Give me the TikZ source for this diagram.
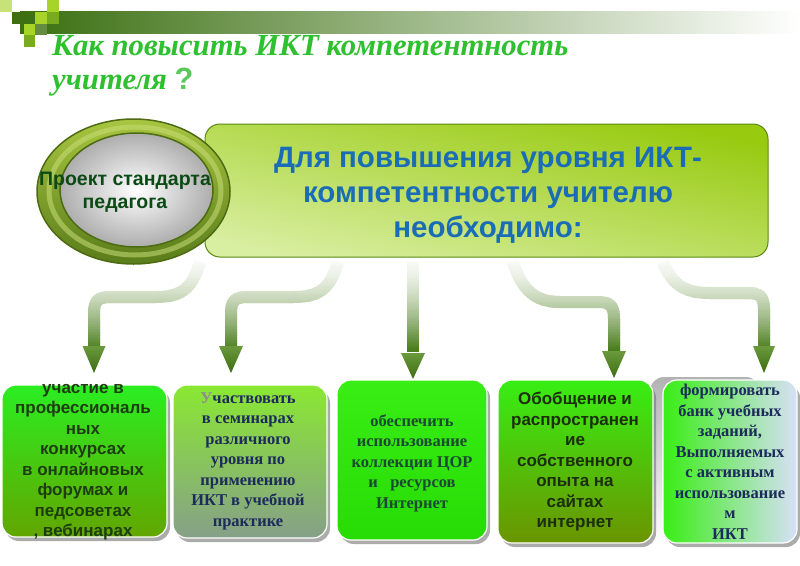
\documentclass[tikz,border=0pt]{standalone}
\usepackage{fontspec}
\setmainfont{Liberation Sans}
\newfontfamily\sansf{Liberation Sans}
\newfontfamily\seriff{Liberation Serif}
\usetikzlibrary{shadows,shapes.geometric}
\definecolor{titlegreen}{HTML}{2EC02E}
\definecolor{qgreen}{HTML}{5CC85C}
\definecolor{bardark}{HTML}{3A6F10}
\definecolor{sqlight}{HTML}{A8D42A}
\definecolor{sqmed}{HTML}{78AB1E}
\definecolor{sqdark}{HTML}{3F6F12}
\definecolor{sqpale}{HTML}{C8E27A}
\definecolor{maintop}{HTML}{98CA10}
\definecolor{mainbot}{HTML}{D8EEA0}
\definecolor{mainborder}{HTML}{5A8A10}
\definecolor{mainblue}{HTML}{1A6DB5}
\definecolor{ringtop}{HTML}{A8C640}
\definecolor{ringbot}{HTML}{5A7C1A}
\definecolor{ringedge}{HTML}{4D6B12}
\definecolor{ringhi}{HTML}{C8DE78}
\definecolor{circtext}{HTML}{0B4A14}
\definecolor{arrowdark}{HTML}{4A7D1C}
\definecolor{headtop}{HTML}{6A9A3C}
\definecolor{headbot}{HTML}{3D6C12}
\definecolor{navy}{HTML}{1C2A5C}
\definecolor{dgtext}{HTML}{1E3D0F}
\definecolor{tealtext}{HTML}{1B4A32}
\definecolor{darktext}{HTML}{1C2E0A}
\definecolor{bgreen}{HTML}{2BEE22}
\definecolor{bolive}{HTML}{62A600}
\definecolor{blight}{HTML}{8AE832}
\definecolor{blav}{HTML}{D8E0F8}
\definecolor{bgreygreen}{HTML}{86A088}
\definecolor{bbright}{HTML}{38EE14}
\definecolor{bbright2}{HTML}{26DC04}
\definecolor{bolive2}{HTML}{6B9400}
\tikzset{
  sq/.style={minimum size=11.7pt, inner sep=0pt, anchor=north west},
  lowbox/.style={rectangle, rounded corners=14pt, inner sep=0pt, draw=white, line width=1.2pt,
    drop shadow={shadow xshift=3pt, shadow yshift=-4pt, fill=black!55, opacity=0.6}},
  sanstext/.style={align=center, inner sep=0pt, font=\sansf\bfseries\fontsize{17}{20.5}\selectfont},
  seriftext/.style={align=center, inner sep=0pt, font=\seriff\bfseries\fontsize{16.5}{20.5}\selectfont},
  titlefont/.style={anchor=base west, inner sep=0pt, text=titlegreen,
    font=\seriff\bfseries\itshape\fontsize{30.7}{34}\selectfont},
  shaft/.style={line width=12pt, line cap=butt, line join=round},
  headshape/.style={top color=headtop, bottom color=headbot, draw=none},
}
\begin{document}
\begin{tikzpicture}[x=1pt,y=-1pt]
\useasboundingbox (0,0) rectangle (800,565);
\fill[white] (0,0) rectangle (800,565);

% top bar and squares
\shade[left color=bardark, right color=white] (20,11) rectangle (800,33);
\node[sq, fill=sqpale] (q0) at (0,0) {};
\node[sq, fill=sqlight] (q1) at (46.8,0) {};
\node[sq, fill=sqdark] (q2) at (11.7,11.7) {};
\node[sq, fill=sqlight] (q3) at (35.1,11.7) {};
\node[sq, fill=sqmed] (q4) at (46.8,11.7) {};
\node[sq, fill=sqlight] (q5) at (23.4,23.4) {};
\node[sq, fill=sqdark!80] (q6) at (35.1,23.4) {};
\node[sq, fill=sqmed] (q7) at (23.4,35.1) {};

% title
\node[titlefont] (title1) at (52,55) {Как повысить ИКТ компетентность};
\node[titlefont] (title2) at (52,89) {учителя {\sansf\bfseries\upshape\color{qgreen}?}};

% main box
\node[rectangle, rounded corners=15pt, minimum width=563pt, minimum height=133pt, inner sep=0pt,
  top color=maintop, bottom color=mainbot, shading angle=-12, draw=mainborder, line width=1pt] (main) at (486.5,190.5) {};
\node[align=center, inner sep=0pt, text=mainblue, font=\sansf\bfseries\fontsize{29.5}{35}\selectfont] (maintext) at (488,195)
 {Для повышения уровня ИКТ-\\компетентности учителю\\необходимо:};

% circle
\node[ellipse, minimum width=193pt, minimum height=145pt, inner sep=0pt,
  top color=ringtop, bottom color=ringbot, draw=ringedge, line width=1.5pt] (ring) at (133.5,191.5) {};
\draw[ringhi, line width=5pt, opacity=0.55] (135,191) ellipse [x radius=86, y radius=64];
\node[ellipse, minimum width=153pt, minimum height=114pt, inner sep=0pt,
  inner color=white, outer color=black!32, draw=ringedge, line width=1.5pt] (inner) at (136.5,190) {};
\node[align=center, inner sep=0pt, text=circtext, font=\sansf\bfseries\fontsize{19.5}{23}\selectfont] (ctext) at (125,192)
 {Проект стандарта\\педагога};

% arrows
\coordinate (s1) at (200,262); \coordinate (e1) at (94,346);
\coordinate (s2) at (338,262); \coordinate (e2) at (231,346);
\coordinate (s3) at (413,262); \coordinate (e3) at (413,353);
\coordinate (s4) at (513,262); \coordinate (e4) at (614,351);
\coordinate (s5) at (663,262); \coordinate (e5) at (764,346);
\foreach \i in {0,...,47}{
  \pgfmathsetmacro{\ya}{255+2*\i}
  \pgfmathsetmacro{\yb}{\ya+2.6}
  \pgfmathtruncatemacro{\pp}{min(100,3+100*((\i+0.5)/48)^1.6)}
  \begin{scope}
    \clip (0,\ya) rectangle (800,\yb);
    \colorlet{bandc}{arrowdark!\pp!white}
    \draw[shaft, bandc] (s1) .. controls (192,290) and (180,297) .. (155,297) -- (110,297) .. controls (98,297) and (94,301) .. (94,313) -- (e1);
    \draw[shaft, bandc] (s2) .. controls (330,290) and (318,297) .. (293,297) -- (247,297) .. controls (235,297) and (231,301) .. (231,313) -- (e2);
    \draw[shaft, bandc] (s3) -- (e3);
    \draw[shaft, bandc] (s4) .. controls (522,290) and (535,302) .. (560,302) -- (598,302) .. controls (610,302) and (614,306) .. (614,318) -- (e4);
    \draw[shaft, bandc] (s5) .. controls (672,285) and (685,293) .. (710,293) -- (748,293) .. controls (760,293) and (764,297) .. (764,309) -- (e5);
  \end{scope}
}
\shade[headshape] ([xshift=-11.5pt]e1) -- ([xshift=11.5pt]e1) -- ([yshift=-27pt]e1) -- cycle;
\shade[headshape] ([xshift=-12pt]e2) -- ([xshift=12pt]e2) -- ([yshift=-27pt]e2) -- cycle;
\shade[headshape] ([xshift=-12pt]e3) -- ([xshift=12pt]e3) -- ([yshift=-26pt]e3) -- cycle;
\shade[headshape] ([xshift=-12pt]e4) -- ([xshift=12pt]e4) -- ([yshift=-27pt]e4) -- cycle;
\shade[headshape] ([xshift=-11pt]e5) -- ([xshift=11pt]e5) -- ([yshift=-27pt]e5) -- cycle;

% box 5 grey backing
\shade[rounded corners=14pt, top color=black!30, bottom color=white] (650,377) rectangle (760,545);

% bottom boxes
\node[lowbox, minimum width=165pt, minimum height=152pt, top color=bgreen, bottom color=bolive] (b1) at (84.5,461) {};
\node[lowbox, minimum width=154pt, minimum height=153pt, top color=blight, middle color=blav, bottom color=bgreygreen] (b2) at (250,461.5) {};
\node[lowbox, minimum width=150pt, minimum height=160pt, top color=bbright, bottom color=bbright2] (b3) at (412,460) {};
\node[lowbox, minimum width=155pt, minimum height=163pt, top color=bbright, bottom color=bolive2] (b4) at (575.5,461.5) {};
\node[lowbox, minimum width=134pt, minimum height=163pt, left color=bbright, right color=blav] (b5) at (730,461.5) {};

\node[sanstext, text=dgtext] (t1) at (83,462)
 {участие в\\профессиональ\\ных\\конкурсах\\в онлайновых\\форумах и\\педсоветах\\, вебинарах};
\node[seriftext, text=navy] (t2) at (248,461)
 {{\color{black!45}У}частвовать\\в семинарах\\различного\\уровня по\\применению\\ИКТ в учебной\\практике};
\node[seriftext, text=tealtext] (t3) at (412,463)
 {обеспечить\\использование\\коллекции ЦОР\\и \ \ ресурсов\\Интернет};
\node[sanstext, text=darktext] (t4) at (575,462)
 {Обобщение и\\распространен\\ие\\собственного\\опыта на\\сайтах\\интернет};
\node[seriftext, text=navy] (t5) at (730,462)
 {формировать\\банк учебных\\заданий,\\Выполняемых\\с активным\\использование\\м\\ИКТ};
\end{tikzpicture}
\end{document}
